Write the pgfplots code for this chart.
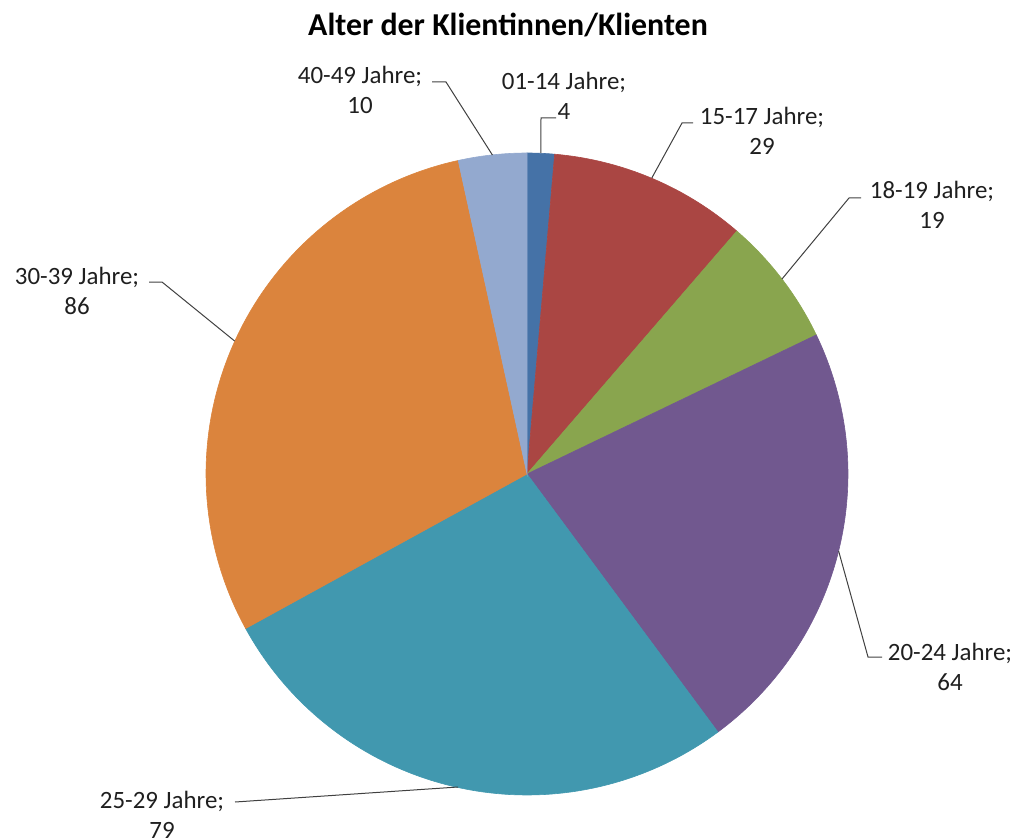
\documentclass[border=0pt]{standalone}
\usepackage{fontspec}
\setmainfont{Carlito}
\usepackage{pgfplots}
\usepackage{pgfplotstable}
\pgfplotsset{compat=1.18}
\definecolor{col0}{HTML}{4572A7}
\definecolor{col1}{HTML}{AA4643}
\definecolor{col2}{HTML}{89A54E}
\definecolor{col3}{HTML}{71588F}
\definecolor{col4}{HTML}{4198AF}
\definecolor{col5}{HTML}{DB843D}
\definecolor{col6}{HTML}{93A9CF}
\tikzset{lbl/.style={font=\fontsize{12.5}{15}\selectfont, text=black!88, align=center, inner sep=0pt}}

% Alter der Klientinnen/Klienten (Anzahl)
\pgfplotstableread{
label value
01-14 4
15-17 29
18-19 19
20-24 64
25-29 79
30-39 86
40-49 10
}\agetable

\begin{document}
\begin{tikzpicture}
% total of all slices
\def\total{0}
\pgfplotsforeachungrouped \i in {0,...,6}{%
  \pgfplotstablegetelem{\i}{value}\of\agetable
  \pgfmathsetmacro\total{\total+\pgfplotsretval}%
}
\def\cum{0}
\begin{axis}[hide axis, scale only axis, width=511.5bp, height=419bp,
  xmin=0, xmax=1023, ymin=0, ymax=838, y dir=reverse, clip=false]
  \pgfplotsforeachungrouped \i in {0,...,6}{%
    \pgfplotstablegetelem{\i}{value}\of\agetable
    \pgfmathsetmacro\a{\cum/\total*360}%
    \pgfmathsetmacro\cum{\cum+\pgfplotsretval}%
    \pgfmathsetmacro\b{\cum/\total*360}%
    \edef\temp{\noexpand\addplot[fill=col\i, draw=col\i, line width=0.3pt,
      domain=\a:\b, samples=80]
      ({527+321*sin(x)},{474-321*cos(x)}) -- (axis cs:527,474) -- cycle;}%
    \temp
  }
  % leader lines
  \addplot[black!75, line width=0.5bp] coordinates {(540.8,153) (541,118) (556,118)};
  \addplot[black!75, line width=0.5bp] coordinates {(651.8,178) (682,123) (693,123)};
  \addplot[black!75, line width=0.5bp] coordinates {(782,279) (849,198) (861,198)};
  \addplot[black!75, line width=0.5bp] coordinates {(838.6,551) (868,657) (882,657)};
  \addplot[black!75, line width=0.5bp] coordinates {(458,787) (235,802)};
  \addplot[black!75, line width=0.5bp] coordinates {(234.6,341) (162,282) (149,282)};
  \addplot[black!75, line width=0.5bp] coordinates {(492.4,155) (446,82) (432,82)};
  % labels
  \node[lbl] at (axis cs:564,96) {01-14 Jahre;\\4};
  \node[lbl] at (axis cs:762,131) {15-17 Jahre;\\29};
  \node[lbl] at (axis cs:932,205) {18-19 Jahre;\\19};
  \node[lbl] at (axis cs:950,667) {20-24 Jahre;\\64};
  \node[lbl] at (axis cs:162,815) {25-29 Jahre;\\79};
  \node[lbl] at (axis cs:77,291) {30-39 Jahre;\\86};
  \node[lbl] at (axis cs:360,90) {40-49 Jahre;\\10};
  \node[font=\fontsize{16}{19}\selectfont\bfseries, text=black] at (axis cs:508,25) {Alter der Klientinnen/Klienten};
  \coordinate (ll) at (axis cs:0,838);
  \coordinate (ur) at (axis cs:1023,0);
\end{axis}
\pgfresetboundingbox
\path (ll) rectangle (ur);
\end{tikzpicture}
\end{document}
